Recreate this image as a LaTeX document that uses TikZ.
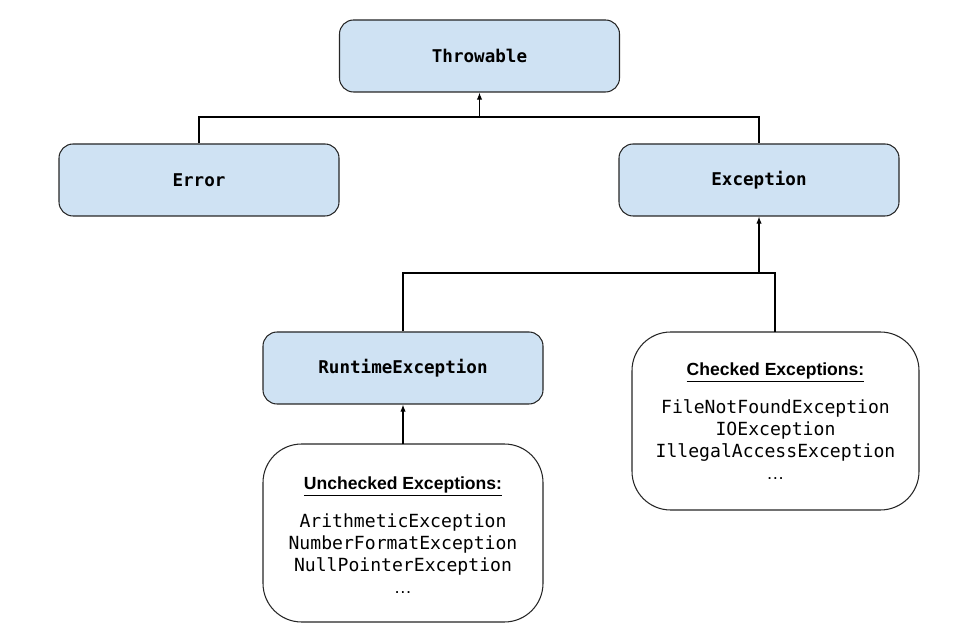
\documentclass[tikz,border=0pt]{standalone}
\usepackage{fontspec}
\setmainfont{Liberation Sans}
\setmonofont{DejaVu Sans Mono}
\usetikzlibrary{arrows.meta}
\definecolor{boxblue}{HTML}{CFE2F3}
\tikzset{
 cls/.style={draw=black!85,fill=boxblue,rounded corners=8pt,minimum width=280*0.02cm,minimum height=72*0.02cm,font=\ttfamily\bfseries\fontsize{10}{12}\selectfont,line width=0.6pt},
 list/.style={draw=black!85,fill=white,rounded corners=22pt,line width=0.6pt,align=center,font=\ttfamily\fontsize{10.3}{12.5}\selectfont},
 conn/.style={line width=0.6pt},
 arr/.style={line width=0.6pt,-{Latex[length=4pt,width=3pt]}}
}
\newcommand{\hd}[1]{{\rmfamily\bfseries\fontsize{10}{12}\selectfont\underline{#1}}}
\begin{document}
\begin{tikzpicture}[x=0.02cm,y=-0.02cm]
\useasboundingbox (0,0) rectangle (960,638);
\node[cls] (thr) at (479.5,56) {Throwable};
\node[cls] (err) at (199,180) {Error};
\node[cls] (exc) at (759,180) {Exception};
\node[cls] (rt) at (403,368) {RuntimeException};
\draw[list] (632,332) rectangle (919,510);
\node[align=center,font=\ttfamily\fontsize{10.3}{12.5}\selectfont] (chk) at (775.5,421) {\hd{Checked Exceptions:}\\[9pt]FileNotFoundException\\IOException\\IllegalAccessException\\\rmfamily\dots};
\coordinate (chktop) at (775,332);
\draw[list] (263,444) rectangle (543,622);
\node[align=center,font=\ttfamily\fontsize{10.3}{12.5}\selectfont] (unc) at (403,535) {\hd{Unchecked Exceptions:}\\[9pt]ArithmeticException\\NumberFormatException\\NullPointerException\\\rmfamily\dots};
\coordinate (unctop) at (403,444);
\coordinate (j1) at (479.5,117);
\coordinate (j2) at (759,273);
\draw[conn] (err.north) |- (j1) -| (exc.north);
\draw[arr] (j1) -- (thr.south);
\draw[conn] (rt.north) |- (j2) -| (chktop);
\draw[arr] (j2) -- (exc.south);
\draw[arr] (unctop) -- (rt.south);
\end{tikzpicture}
\end{document}
